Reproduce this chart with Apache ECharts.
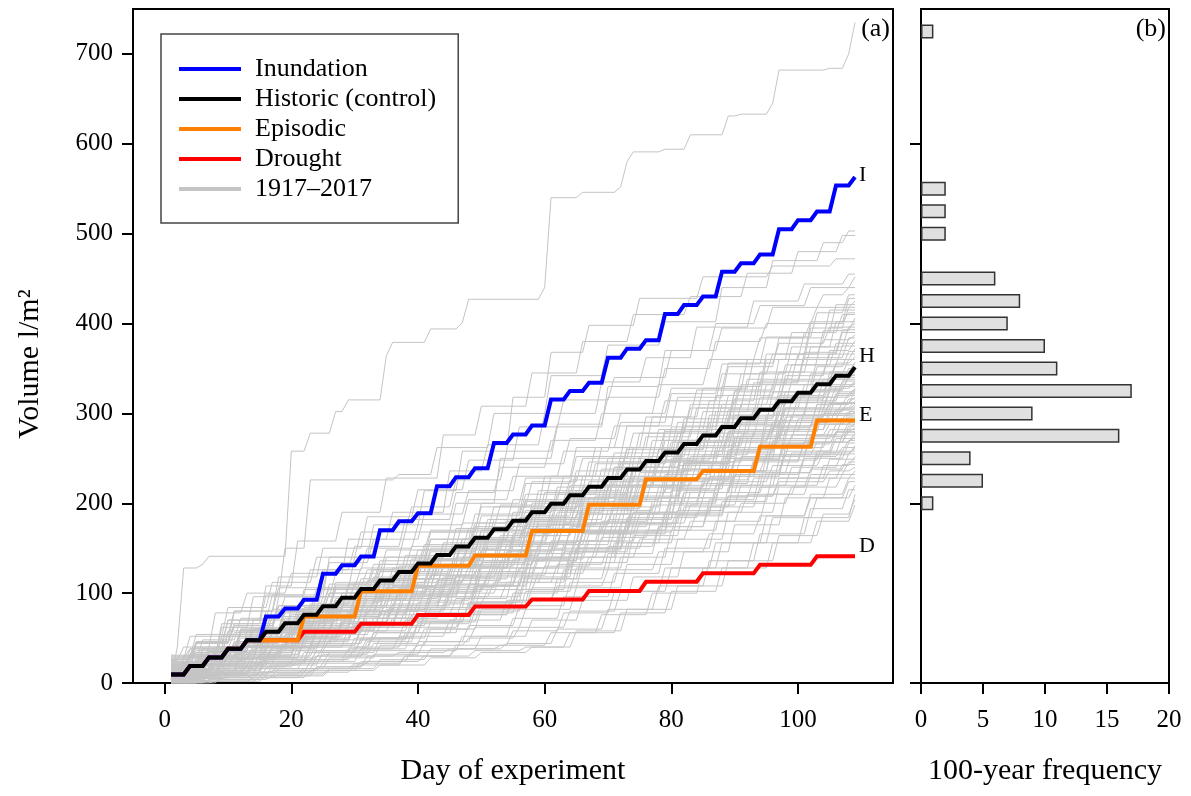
<!DOCTYPE html>
<html lang="en">
<head>
	<meta charset="UTF-8">
	<title>Volume</title>
	<style>
       html, body { margin: 0; padding: 0; background: #fff; }
       #chart_box { width: 1191px; height: 796px; }
	</style>
	<script type="text/javascript" src="https://cdn.jsdelivr.net/npm/echarts@6/dist/echarts.min.js"></script>
</head>
<body>
	<div id="chart_box"></div>
	<script type="text/javascript">
      // tick labels
      var dayTicks = [0, 20, 40, 60, 80, 100];
      var volTicks = [0, 100, 200, 300, 400, 500, 600, 700];
      var histTicks = [0, 200, 400, 600];

      // histogram (b): volume bins and number of years
      var volBins = [0,25,50,75,100,125,150,175,200,225,250,275,300,325,350,375,400,425,450,475,500,525,550,575,600,625,650,675,700,725,750];
      var binCenters = [200,225,250,275,300,325,350,375,400,425,450,475,500,525,550,575,600,625,650,675,700,725];
      var binCounts  = [1,5,4,16,9,17,11,10,7,8,6,0,2,2,2,0,0,0,0,0,0,1];

      // treatments: [day, cumulative volume, day, cumulative volume, ...]
      var inundation = [1,9.5, 4,19, 7,28.5, 10,38, 13,47.5, 16,74, 19,83, 22,92.6, 25,121.5, 28,131, 31,140.8, 34,170, 37,180, 40,189,
                        43,219, 46,229, 49,239, 52,267, 55,276.5, 58,286.5, 61,315.5, 64,325, 67,334, 70,362, 73,372, 76,381.5,
                        79,410.5, 82,420.5, 85,430, 88,457.6, 91,467, 94,476.7, 97,505, 100,515, 103,524.6, 106,553.6, 109,563];
      var historic = [1,9.5, 4,19, 7,28.5, 10,38, 13,47.5, 16,57, 19,66.5, 22,76, 25,85.5, 28,95, 31,104.5, 34,114, 37,123.5, 40,133,
                      43,142.5, 46,152, 49,161.5, 52,171, 55,180.5, 58,190, 61,199.5, 64,209, 67,218.5, 70,228, 73,237.5, 76,247,
                      79,256.5, 82,266, 85,275.5, 88,285, 91,294.5, 94,304, 97,313.5, 100,323, 103,332.5, 106,342, 109,351.5];
      var episodic = [1,9.5, 4,19, 7,28.5, 10,38, 13,47.5, 22,74, 31,102, 40,130.4, 49,142, 58,169.2, 67,198.4, 76,226.6, 85,236, 94,263, 103,292];
      var drought  = [1,9.5, 4,19, 7,28.5, 10,38, 13,47.5, 22,57, 31,66, 40,75.8, 49,85, 58,93, 67,102.5, 76,112.6, 85,122, 94,131.5, 103,141];

      // 1917-2017 years, same layout
      var grayYears = [
        [1,4, 2,40, 3,128, 6,132, 7,141, 20,258, 23,278, 27,302, 29,315, 35,364, 36,379, 42,394, 47,401, 48,427, 60,440, 61,540, 66,546, 72,552, 73,580, 74,591, 79,594, 83,610, 89,631, 91,633, 96,645, 97,682, 105,684, 108,700, 109,735],
        [1,10, 4,30, 9,62, 14,96, 19,150, 23,226, 37,232, 43,262, 52,300, 61,342, 70,376, 79,402, 88,440, 96,470, 104,490, 108,503],
        [1,18, 5,44, 10,70, 16,108, 21,158, 28,190, 35,228, 44,276, 50,308, 58,345, 66,380, 74,410, 83,430, 92,456, 100,480, 107,498],
        [1,4, 6,26, 12,58, 18,96, 26,140, 33,176, 41,214, 47,258, 55,318, 61,368, 67,398, 75,428, 85,452, 96,464, 106,472],
        [1,25, 3,40, 8,78, 13,100, 20,122, 29,160, 36,190, 45,236, 51,265, 60,300, 69,335, 76,362, 84,396, 93,425, 101,444, 108,455],
        [1,12, 7,35, 14,70, 22,104, 30,140, 38,168, 46,200, 53,250, 62,285, 70,330, 79,370, 87,400, 94,420, 102,440, 109,452],
        [1,15, 5,45, 11,80, 18,118, 25,150, 32,185, 40,215, 48,248, 56,285, 63,315, 71,340, 80,370, 88,395, 96,418, 104,432, 108,440],
        [1,8, 6,30, 13,58, 20,82, 27,108, 35,140, 42,168, 50,200, 57,228, 65,262, 72,290, 80,322, 88,355, 95,385, 103,412, 108,432],
        [1,3, 8,14, 16,36, 24,58, 32,80, 41,104, 49,136, 57,172, 64,206, 72,246, 80,285, 88,330, 95,366, 102,400, 108,428],
        [1,26, 4,52, 10,84, 17,112, 24,140, 31,168, 39,196, 46,226, 54,258, 62,288, 70,318, 79,350, 87,380, 95,400, 103,418, 109,425],
        [1,12, 7,36, 14,60, 22,84, 29,110, 37,140, 45,168, 52,196, 60,230, 68,262, 76,296, 84,326, 92,360, 99,390, 106,421],
        [1,0, 6,10, 14,28, 22,50, 30,72, 39,98, 47,128, 55,164, 63,200, 71,240, 79,280, 87,320, 95,360, 102,395, 108,418],
        [1,20, 5,34, 12,58, 19,80, 27,106, 34,132, 42,160, 49,188, 57,222, 65,252, 73,286, 81,318, 89,352, 97,384, 105,415],
        [1,6, 3,30, 9,66, 16,98, 23,126, 30,152, 38,182, 46,212, 53,240, 61,270, 69,300, 78,332, 86,360, 94,384, 102,402, 108,412],
        [1,16, 8,40, 15,62, 23,88, 30,112, 38,142, 46,172, 53,198, 61,230, 69,262, 77,296, 85,328, 93,360, 101,390, 107,410],
        [1,9, 10,22, 18,40, 26,58, 34,80, 42,104, 50,134, 58,168, 66,206, 74,246, 82,286, 90,326, 97,360, 104,392, 109,406],
        [1,4, 6,24, 13,50, 21,76, 28,100, 36,128, 44,156, 51,182, 59,214, 67,246, 75,278, 83,310, 91,344, 99,374, 106,402],
        [1,30, 5,54, 11,80, 18,106, 26,134, 33,160, 41,188, 48,214, 56,244, 64,272, 72,300, 80,328, 89,356, 97,378, 105,396, 109,400],
        [1,10, 9,34, 16,56, 24,80, 31,104, 39,132, 47,160, 55,190, 62,218, 70,250, 78,282, 86,314, 94,346, 102,374, 108,396],
        [1,2, 5,8, 13,22, 21,40, 29,62, 37,86, 46,114, 54,146, 62,182, 70,220, 78,260, 86,298, 94,336, 101,368, 107,393],
        [1,22, 7,40, 14,60, 21,82, 29,106, 37,130, 44,154, 52,182, 60,212, 68,244, 76,274, 84,306, 92,338, 100,366, 107,390],
        [1,14, 4,38, 10,70, 17,98, 25,126, 32,150, 40,176, 48,204, 55,230, 63,258, 71,286, 79,314, 88,344, 96,366, 104,382, 109,387],
        [1,6, 8,26, 15,48, 23,72, 30,96, 38,122, 46,150, 54,180, 62,210, 69,238, 77,270, 85,302, 93,334, 101,362, 108,384],
        [1,18, 9,26, 17,38, 25,54, 33,72, 42,96, 50,124, 58,156, 66,192, 74,230, 82,268, 90,306, 98,342, 105,370, 109,381],
        [1,0, 5,16, 12,40, 20,66, 27,90, 35,116, 43,144, 50,170, 58,200, 66,230, 74,262, 82,294, 90,324, 98,354, 106,378],
        [1,24, 6,48, 12,72, 19,96, 27,122, 35,148, 42,170, 50,196, 58,224, 66,250, 74,278, 83,306, 91,332, 99,354, 107,375],
        [1,12, 10,36, 17,56, 25,80, 32,102, 40,128, 48,156, 56,184, 64,214, 71,240, 79,270, 87,302, 95,332, 103,360, 109,372],
        [1,4, 7,10, 15,24, 23,42, 31,62, 39,84, 48,110, 56,140, 64,174, 72,212, 80,250, 88,288, 96,324, 103,352, 108,369],
        [1,28, 4,38, 11,56, 19,78, 26,100, 34,124, 42,150, 49,174, 57,202, 65,230, 73,260, 81,290, 89,320, 97,346, 105,366],
        [1,9, 5,30, 12,60, 19,86, 27,112, 34,136, 42,160, 50,186, 57,210, 65,236, 73,262, 82,290, 90,316, 98,338, 106,356, 109,363],
        [1,15, 8,34, 16,56, 23,76, 31,100, 39,124, 46,148, 54,174, 62,202, 70,230, 78,260, 86,290, 94,318, 102,344, 108,360],
        [1,0, 9,8, 17,20, 25,36, 33,56, 41,78, 49,104, 58,136, 66,170, 74,206, 82,244, 90,282, 98,318, 105,346, 109,357],
        [1,20, 6,34, 13,52, 21,74, 28,96, 36,120, 44,144, 51,168, 59,196, 67,224, 75,252, 83,282, 91,310, 99,336, 106,354],
        [1,5, 3,24, 9,52, 16,80, 24,106, 31,128, 39,152, 47,178, 55,204, 63,230, 71,256, 79,282, 88,310, 96,332, 104,346, 109,351],
        [1,11, 7,28, 15,50, 22,70, 30,92, 38,116, 46,140, 53,164, 61,192, 69,220, 77,248, 85,278, 93,306, 101,332, 108,350],
        [1,14, 8,20, 16,30, 24,44, 32,62, 40,82, 49,108, 57,138, 65,170, 73,206, 81,242, 89,278, 97,312, 104,338, 109,348],
        [1,3, 5,16, 12,36, 20,60, 27,82, 35,106, 43,132, 50,156, 58,184, 66,212, 74,240, 82,270, 90,298, 98,324, 106,346],
        [1,26, 5,44, 11,64, 18,86, 26,110, 33,132, 41,154, 49,178, 57,204, 64,226, 72,252, 81,278, 89,304, 97,324, 105,340, 109,344],
        [1,8, 9,28, 16,48, 24,70, 31,92, 39,116, 47,140, 55,166, 62,190, 70,218, 78,246, 86,274, 94,302, 102,326, 108,342],
        [1,6, 6,10, 14,20, 22,34, 30,50, 38,70, 47,94, 55,122, 63,154, 71,188, 79,224, 87,262, 95,298, 102,326, 108,340],
        [1,17, 4,28, 11,46, 19,68, 26,88, 34,112, 42,136, 49,160, 57,186, 65,212, 73,240, 81,268, 89,296, 97,320, 105,338],
        [1,1, 7,18, 14,38, 22,60, 30,84, 37,106, 45,132, 53,158, 61,184, 68,208, 76,236, 84,264, 92,292, 100,318, 107,336],
        [1,12, 4,32, 10,58, 17,82, 25,106, 32,126, 40,148, 48,172, 56,196, 64,220, 72,244, 80,268, 89,294, 97,316, 105,330, 109,335],
        [1,22, 10,28, 18,36, 26,48, 34,64, 42,84, 50,108, 58,136, 66,168, 74,202, 82,238, 90,274, 98,306, 105,328, 109,334],
        [1,9, 6,24, 13,42, 21,64, 28,84, 36,108, 44,132, 51,154, 59,180, 67,206, 75,234, 83,262, 91,290, 99,314, 107,332],
        [1,31, 5,40, 12,56, 20,76, 27,94, 35,116, 43,138, 51,162, 58,184, 66,210, 74,236, 82,262, 90,288, 98,312, 106,330],
        [1,2, 8,6, 16,16, 24,30, 32,46, 40,66, 49,90, 57,118, 65,150, 73,184, 81,220, 89,256, 97,292, 104,318, 109,328],
        [1,16, 6,38, 12,60, 19,82, 27,104, 34,124, 42,146, 50,170, 58,194, 66,218, 74,240, 82,262, 90,286, 98,306, 106,322, 109,327],
        [1,5, 9,22, 17,42, 24,62, 32,84, 40,106, 47,128, 55,152, 63,178, 71,204, 79,232, 87,258, 95,286, 103,310, 109,326],
        [1,19, 4,30, 11,46, 19,66, 26,86, 34,108, 42,130, 49,152, 57,176, 65,202, 73,228, 81,254, 89,280, 97,304, 105,324],
        [1,10, 7,14, 15,22, 23,34, 31,50, 39,68, 48,90, 56,116, 64,146, 72,178, 80,214, 88,250, 96,284, 103,310, 108,322],
        [1,0, 6,12, 13,30, 21,52, 28,72, 36,94, 44,118, 52,142, 60,168, 67,192, 75,218, 83,246, 91,272, 99,298, 106,320],
        [1,24, 5,46, 11,66, 18,86, 26,106, 33,126, 41,148, 49,170, 57,192, 65,214, 73,236, 81,258, 89,280, 97,298, 105,312, 109,318],
        [1,13, 8,28, 15,46, 23,66, 30,86, 38,108, 46,130, 54,154, 61,176, 69,202, 77,228, 85,254, 93,280, 101,302, 108,316],
        [1,7, 10,12, 18,22, 26,34, 34,50, 42,68, 50,90, 58,116, 66,146, 74,178, 82,212, 90,248, 98,282, 105,306, 109,314],
        [1,21, 6,32, 13,48, 21,68, 28,86, 36,108, 44,130, 51,152, 59,176, 67,200, 75,226, 83,252, 91,276, 99,298, 107,312],
        [1,4, 4,14, 11,32, 19,54, 27,76, 34,96, 42,120, 50,144, 58,168, 66,194, 74,220, 82,246, 90,272, 98,296, 105,311],
        [1,8, 3,28, 9,52, 16,74, 24,96, 31,116, 39,138, 47,160, 55,182, 63,204, 71,226, 79,248, 87,270, 96,290, 104,304, 109,310],
        [1,16, 9,20, 17,28, 25,40, 33,56, 41,74, 49,96, 57,122, 65,150, 73,182, 81,216, 89,250, 97,280, 104,300, 109,308],
        [1,11, 7,26, 14,42, 22,62, 29,80, 37,102, 45,124, 53,148, 60,170, 68,194, 76,220, 84,246, 92,272, 100,294, 107,306],
        [1,26, 5,36, 12,50, 20,68, 27,86, 35,106, 43,128, 50,148, 58,172, 66,196, 74,220, 82,244, 90,268, 98,290, 106,304],
        [1,0, 7,4, 15,12, 23,24, 31,38, 39,56, 47,78, 56,104, 64,134, 72,166, 80,200, 88,236, 96,270, 103,294, 108,302],
        [1,13, 4,32, 10,54, 17,74, 25,96, 32,114, 40,136, 48,158, 56,180, 64,202, 72,224, 80,246, 88,268, 96,286, 104,298, 109,301],
        [1,6, 8,22, 16,40, 23,58, 31,78, 39,100, 46,120, 54,144, 62,168, 70,192, 78,218, 86,242, 94,266, 102,288, 108,300],
        [1,18, 4,28, 11,44, 19,62, 26,80, 34,100, 42,120, 49,140, 57,164, 65,188, 73,212, 81,236, 89,260, 97,282, 105,298],
        [1,12, 8,16, 16,24, 24,36, 32,50, 40,68, 48,88, 56,112, 64,140, 72,170, 80,202, 88,236, 96,268, 103,288, 108,296],
        [1,3, 6,14, 13,30, 21,50, 28,68, 36,88, 44,110, 52,132, 59,154, 67,178, 75,202, 83,228, 91,252, 99,276, 107,294],
        [1,29, 5,46, 11,62, 18,80, 26,100, 33,118, 41,138, 49,158, 57,178, 65,198, 73,218, 81,238, 89,258, 97,276, 105,288, 109,292],
        [1,9, 9,24, 16,40, 24,58, 31,76, 39,96, 47,116, 55,138, 62,158, 70,182, 78,206, 86,230, 94,254, 102,276, 108,290],
        [1,5, 10,8, 18,16, 26,28, 34,42, 42,60, 50,82, 58,106, 66,134, 74,164, 82,196, 90,230, 98,262, 105,282, 109,289],
        [1,15, 5,26, 12,40, 20,58, 27,76, 35,94, 43,114, 50,134, 58,156, 66,178, 74,202, 82,226, 90,250, 98,272, 106,288],
        [1,1, 7,12, 14,28, 22,46, 30,66, 37,86, 45,106, 53,128, 61,150, 69,174, 77,198, 85,222, 93,246, 101,268, 108,286],
        [1,20, 6,38, 12,54, 19,72, 27,92, 34,110, 42,128, 50,148, 58,168, 66,188, 74,208, 82,228, 90,248, 98,266, 106,280, 109,284],
        [1,8, 6,10, 14,16, 22,26, 30,40, 38,56, 46,76, 55,100, 63,126, 71,156, 79,188, 87,220, 95,252, 102,274, 108,282],
        [1,23, 8,34, 15,48, 23,64, 30,80, 38,98, 46,118, 53,136, 61,158, 69,180, 77,202, 85,226, 93,248, 101,268, 108,280],
        [1,4, 4,12, 12,28, 19,44, 27,62, 35,82, 42,100, 50,122, 58,144, 66,166, 74,190, 82,212, 90,236, 98,258, 106,279],
        [1,14, 9,16, 17,22, 25,32, 33,44, 41,60, 49,80, 57,102, 65,128, 73,156, 81,186, 89,218, 97,248, 104,268, 109,278],
        [1,10, 6,20, 13,34, 21,50, 28,66, 36,84, 44,104, 51,122, 59,144, 67,166, 75,188, 83,212, 91,234, 99,256, 107,276],
        [1,2, 3,20, 9,40, 16,60, 24,80, 31,98, 39,116, 47,136, 55,156, 63,176, 71,196, 79,216, 87,236, 95,254, 103,268, 109,274],
        [1,27, 5,34, 12,46, 20,60, 27,74, 35,92, 43,110, 50,128, 58,148, 66,168, 74,190, 82,212, 90,232, 98,254, 106,272],
        [1,0, 8,2, 16,8, 24,18, 32,30, 40,46, 48,64, 56,86, 64,112, 72,140, 80,170, 88,202, 96,234, 103,258, 108,270],
        [1,7, 7,18, 15,32, 22,48, 30,64, 38,82, 45,100, 53,120, 61,140, 69,162, 77,184, 85,206, 93,228, 101,250, 108,267],
        [1,16, 10,28, 17,40, 25,56, 32,72, 40,90, 48,108, 56,128, 63,146, 71,168, 79,190, 87,212, 95,234, 103,254, 109,264],
        [1,11, 5,12, 13,18, 21,26, 29,38, 37,52, 45,70, 54,92, 62,116, 70,144, 78,174, 86,204, 94,232, 101,252, 107,262],
        [1,6, 4,22, 10,40, 17,58, 25,78, 32,94, 40,112, 48,130, 56,148, 64,168, 72,188, 80,206, 88,224, 96,242, 104,256, 109,261],
        [1,21, 6,28, 13,40, 21,54, 28,68, 36,84, 44,102, 51,118, 59,138, 67,158, 75,178, 83,198, 91,220, 99,240, 107,258],
        [1,3, 8,12, 16,26, 23,42, 31,58, 39,76, 46,94, 54,112, 62,132, 70,152, 78,174, 86,196, 94,218, 102,238, 108,255],
        [1,9, 9,10, 17,14, 25,22, 33,32, 41,46, 49,62, 57,82, 65,106, 73,132, 81,160, 89,190, 97,220, 104,242, 109,252],
        [1,13, 4,20, 11,32, 19,46, 26,60, 34,76, 42,92, 49,108, 57,128, 65,148, 73,168, 81,188, 89,208, 97,228, 105,249],
        [1,1, 7,2, 15,6, 23,14, 31,24, 39,36, 47,52, 55,72, 63,96, 71,122, 79,150, 87,180, 95,210, 102,232, 108,246],
        [1,24, 7,30, 14,40, 22,52, 29,66, 37,80, 45,96, 52,112, 60,130, 68,150, 76,170, 84,190, 92,210, 100,228, 107,243],
        [1,10, 5,26, 11,42, 18,58, 26,76, 33,92, 41,108, 49,124, 57,140, 65,158, 73,176, 81,192, 89,208, 97,224, 105,236, 109,240],
        [1,5, 10,6, 18,10, 26,16, 34,26, 42,38, 50,52, 58,70, 66,92, 74,118, 82,146, 90,176, 98,206, 105,228, 109,236],
        [1,17, 6,24, 13,34, 21,46, 28,58, 36,72, 44,88, 51,104, 59,122, 67,140, 75,160, 83,180, 91,200, 99,218, 107,232],
        [1,0, 6,2, 14,6, 22,12, 30,20, 38,30, 46,42, 55,58, 63,78, 71,102, 79,128, 87,156, 95,186, 102,210, 108,228],
        [1,8, 9,14, 16,24, 24,36, 31,48, 39,62, 47,76, 55,92, 62,108, 70,126, 78,146, 86,166, 94,186, 102,206, 108,224],
        [1,20, 8,22, 16,26, 24,30, 32,36, 40,42, 48,50, 56,62, 64,80, 72,102, 80,128, 88,156, 96,184, 103,206, 109,220],
        [1,4, 6,6, 14,10, 22,16, 30,22, 38,30, 46,38, 54,44, 62,60, 70,82, 78,108, 86,136, 94,166, 102,194, 108,215],
        [1,12, 4,14, 12,18, 20,24, 29,30, 37,34, 45,38, 53,42, 61,56, 69,76, 77,100, 85,128, 93,156, 101,184, 109,210],
        [1,2, 9,4, 17,8, 26,14, 34,20, 42,28, 50,34, 58,40, 65,58, 73,82, 81,108, 89,136, 97,164, 104,188, 109,204],
        [1,7, 7,8, 15,12, 24,18, 32,24, 41,30, 49,36, 57,40, 64,56, 72,78, 80,102, 88,128, 96,156, 103,180, 109,198]
      ];

      var lastDay = 109;
      var serif = 'Liberation Serif';

      // turn [day, value, ...] into a stepped path: flat, then a one-day rise
      var stepLine = function(ev){
          var pts = [[ev[0], ev[1]]];
          for (var i = 2; i < ev.length; i += 2) {
              pts.push([ev[i] - 1, ev[i - 1]]);
              pts.push([ev[i], ev[i + 1]]);
          }
          var last = pts[pts.length - 1];
          if (last[0] < lastDay) pts.push([lastDay, last[1]]);
          return pts;
      };

      var chart = echarts.init(document.getElementById('chart_box'));

      var series = [];
      grayYears.forEach(function(ev){
          series.push({
              name: '1917\u20132017',
              type: 'line',
              xAxisIndex: 0, yAxisIndex: 0,
              data: stepLine(ev),
              symbol: 'none',
              silent: true,
              color: '#c4c4c4',
              lineStyle: { width: 1, color: '#c4c4c4' },
              z: 2
          });
      });

      var mainLine = function(name, ev, color, tag, dy){
          return {
              name: name,
              type: 'line',
              xAxisIndex: 0, yAxisIndex: 0,
              data: stepLine(ev),
              symbol: 'none',
              silent: true,
              color: color,
              lineStyle: { width: 4, color: color, join: 'miter' },
              endLabel: {
                  show: true,
                  formatter: tag,
                  offset: [0, dy],
                  distance: 4,
                  color: '#000',
                  fontFamily: serif,
                  fontSize: 22
              },
              z: 3
          };
      };
      series.push(mainLine('Drought', drought, '#ff0000', 'D', -10));
      series.push(mainLine('Episodic', episodic, '#ff8000', 'E', -5));
      series.push(mainLine('Inundation', inundation, '#0000ff', 'I', -2));
      series.push(mainLine('Historic (control)', historic, '#000000', 'H', -11));

      // histogram bars on the volume bins
      var barData = volBins.map(function(v){
          var k = binCenters.indexOf(v);
          return (k >= 0 && binCounts[k] > 0) ? binCounts[k] : '-';
      });
      series.push({
          name: 'freq',
          type: 'bar',
          xAxisIndex: 1, yAxisIndex: 1,
          data: barData,
          barWidth: 14,
          silent: true,
          itemStyle: { color: '#e0e0e0', borderColor: '#333333', borderWidth: 1.5 }
      });

      var tickStyle = { show: true, inside: false, length: 11, lineStyle: { color: '#000', width: 2 } };
      var lineStyle = { show: true, onZero: false, lineStyle: { color: '#000', width: 2 } };
      var labelStyle = { color: '#000', fontFamily: serif, fontSize: 25 };
      var nameStyle = { color: '#000', fontFamily: serif, fontSize: 30 };

      var option = {
          animation: false,
          backgroundColor: '#fff',
          legend: {
              left: 161, top: 34,
              orient: 'vertical',
              data: ['Inundation', 'Historic (control)', 'Episodic', 'Drought', '1917\u20132017'],
              icon: 'rect',
              itemWidth: 62, itemHeight: 4, itemGap: 4,
              borderColor: '#444', borderWidth: 1.5,
              padding: [22, 22, 21, 18],
              textStyle: { color: '#000', fontFamily: serif, fontSize: 26, padding: [0, 0, 0, 9] },
              selectedMode: false
          },
          grid: [
              { left: 133, right: 298, top: 9, bottom: 113, show: true, borderColor: '#000', borderWidth: 2 },
              { left: 921, right: 22, top: 9, bottom: 113, show: true, borderColor: '#000', borderWidth: 2 }
          ],
          xAxis: [
              {
                  gridIndex: 0, type: 'value', min: -5, max: 115,
                  name: 'Day of experiment', nameLocation: 'middle', nameGap: 73, nameTextStyle: nameStyle,
                  axisLine: lineStyle,
                  axisTick: Object.assign({ customValues: dayTicks }, tickStyle),
                  axisLabel: Object.assign({ customValues: dayTicks, margin: 25 }, labelStyle),
                  splitLine: { show: false }
              },
              {
                  gridIndex: 1, type: 'value', min: 0, max: 20, interval: 5,
                  name: '100-year frequency', nameLocation: 'middle', nameGap: 73, nameTextStyle: nameStyle,
                  axisLine: lineStyle,
                  axisTick: tickStyle,
                  axisLabel: Object.assign({ margin: 25 }, labelStyle),
                  splitLine: { show: false }
              }
          ],
          yAxis: [
              {
                  gridIndex: 0, type: 'value', min: 0, max: 750,
                  name: 'Volume l/m\u00b2', nameLocation: 'middle', nameGap: 88,
                  nameTextStyle: Object.assign({ padding: [0, 36, 0, 0] }, nameStyle),
                  axisLine: lineStyle,
                  axisTick: Object.assign({ customValues: volTicks }, tickStyle),
                  axisLabel: Object.assign({ customValues: volTicks, margin: 20 }, labelStyle),
                  splitLine: { show: false }
              },
              {
                  gridIndex: 1, type: 'category', data: volBins, boundaryGap: false,
                  axisLine: lineStyle,
                  axisTick: Object.assign({ interval: function(i, v){ return histTicks.indexOf(Number(v)) >= 0; } }, tickStyle),
                  axisLabel: { show: false },
                  splitLine: { show: false }
              }
          ],
          graphic: [
              { type: 'text', right: 301, top: 16, style: { text: '(a)', fontFamily: serif, fontSize: 26, fill: '#000' } },
              { type: 'text', right: 25, top: 16, style: { text: '(b)', fontFamily: serif, fontSize: 26, fill: '#000' } }
          ],
          series: series
      };
      chart.setOption(option);
	</script>
</body>
</html>
